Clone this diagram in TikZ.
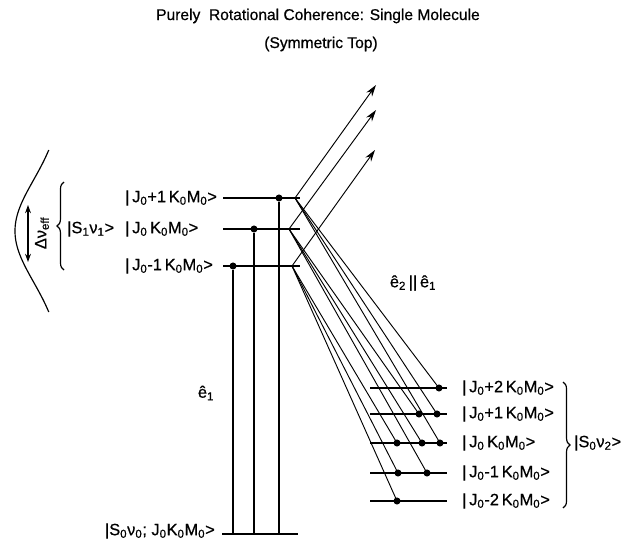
\documentclass[tikz,border=0pt]{standalone}
\usepackage{fontspec}
\setmainfont{Liberation Sans}[FakeBold=0.6]
\usetikzlibrary{arrows.meta,decorations.pathreplacing}

\newcommand{\sub}[1]{\textsubscript{#1}}
\newcommand{\ketJ}[1]{|\,J\sub{0}#1\,K\sub{0}M\sub{0}>}

\tikzset{
  level/.style={line width=2pt},
  vline/.style={line width=1.2pt},
  trans/.style={line width=0.8pt},
  dot/.style={circle,fill,inner sep=0pt,minimum size=6pt},
  lbl/.style={anchor=west,inner sep=0pt,font=\fontsize{14}{16}\selectfont},
}

\begin{document}
\begin{tikzpicture}[x=0.3mm,y=-0.3mm]
    \useasboundingbox (0,0) rectangle (628,544);

    % title
    \node (title) at (318,16) {\fontsize{13.3}{15}\selectfont Purely\ \ Rotational Coherence: Single Molecule};
    \node (subtitle) at (321,44) {\fontsize{13.3}{15}\selectfont (Symmetric Top)};

    % upper manifold |S1 v1>
    \foreach \n/\y/\cx in {a/198/295, b/229/289, c/266/292} {
        \coordinate (u\n-l) at (223,\y);
        \coordinate (u\n-r) at (300,\y);
        \coordinate (u\n) at (\cx,\y);
        \draw[level] (u\n-l) -- (u\n-r);
    }
    \node[lbl] (la) at (125,198) {\ketJ{+1}};
    \node[lbl] (lb) at (125,229) {\ketJ{}};
    \node[lbl] (lc) at (125,266) {\ketJ{-1}};
    \node[lbl] (s1) at (67,229) {|S\sub{1}ν\sub{1}>};
    \draw[line width=1pt,decorate,decoration={brace,amplitude=6pt}] (64,270) -- (64,182);

    % ground state
    \coordinate (g-l) at (222,534);
    \coordinate (g-r) at (298,534);
    \draw[level] (g-l) -- (g-r);
    \node[lbl,anchor=east] (g) at (215,531) {|S\sub{0}ν\sub{0}; J\sub{0}K\sub{0}M\sub{0}>};

    % pump transitions
    \node[dot] (da) at (279,198) {};
    \node[dot] (db) at (254,229) {};
    \node[dot] (dc) at (233,266) {};
    \foreach \d in {da,db,dc}
        \draw[vline] (\d) -- (\d |- g-l);
    \node[lbl,anchor=center] (e1) at (206,393) {ê\sub{1}};

    % outgoing arrows
    \coordinate (ta) at (376,85);
    \coordinate (tb) at (376,110);
    \coordinate (tc) at (375,150);
    \draw[trans,-{Stealth[length=10pt,width=6pt]}] (ua) -- (ta);
    \draw[trans,-{Stealth[length=10pt,width=6pt]}] (ub) -- (tb);
    \draw[trans,-{Stealth[length=10pt,width=6pt]}] (uc) -- (tc);

    % lower manifold |S0 v2>
    \foreach \n/\y/\t in {p2/388/+2, p1/414/+1, z/443/, m1/473/-1, m2/501/-2} {
        \draw[level] (370,\y) -- (447,\y);
        \node[lbl] (l\n) at (462,\y) {\ketJ{\t}};
    }
    \node[dot] (p2a) at (439,388) {};
    \node[dot] (p1a) at (437,414) {};
    \node[dot] (za)  at (440,443) {};
    \node[dot] (p1b) at (419,414) {};
    \node[dot] (zb)  at (422,443) {};
    \node[dot] (m1b) at (427,473) {};
    \node[dot] (zc)  at (397,443) {};
    \node[dot] (m1c) at (398,473) {};
    \node[dot] (m2c) at (397,501) {};
    \foreach \s/\e in {ua/p2a, ua/p1a, ua/za, ub/p1b, ub/zb, ub/m1b, uc/zc, uc/m1c, uc/m2c}
        \draw[trans] (\s) -- (\e.center);
    \draw[line width=1pt,decorate,decoration={brace,amplitude=6pt}] (563,382) -- (563,508);
    \node[lbl] (s0) at (574,443) {|S\sub{0}ν\sub{2}>};
    \node[lbl,anchor=center] (e2) at (413,283) {ê\sub{2}\,||\,ê\sub{1}};

    % line shape
    \draw[line width=1pt] plot[domain=150:312,samples=60,smooth] ({62-47*exp(-((\x-231)/72)^2)},\x);
    \draw[line width=1pt,{Stealth[length=7pt,width=5pt]}-{Stealth[length=7pt,width=5pt]}] (28,205) -- (28,262);
    \node[lbl,anchor=center,rotate=90] (dv) at (42,233) {Δν\sub{eff}};
\end{tikzpicture}
\end{document}
